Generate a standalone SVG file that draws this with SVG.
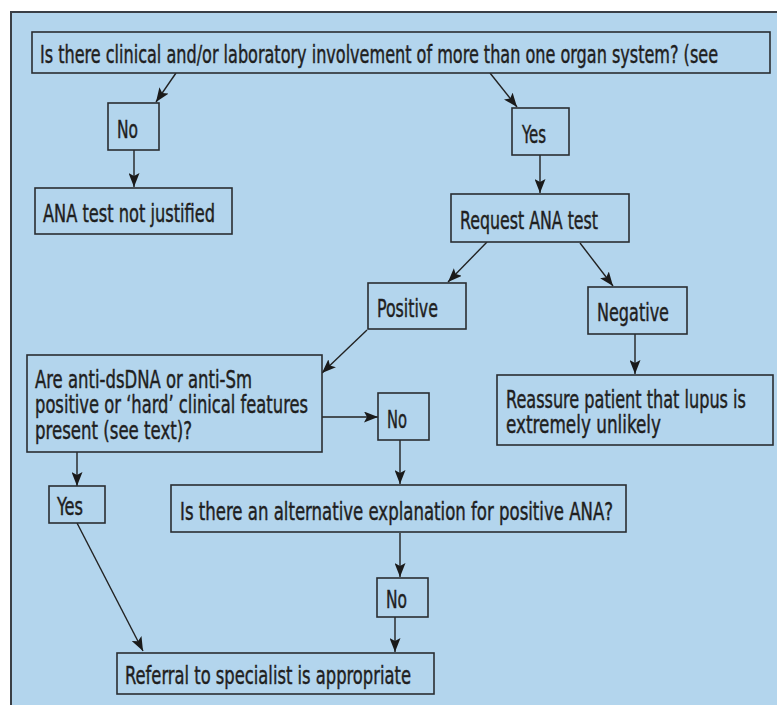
<svg xmlns="http://www.w3.org/2000/svg" width="777" height="705" viewBox="0 0 777 705">
<defs>
<style>
.bg{fill:#b3d5ed;stroke:#3a3f46;stroke-width:2}
.box{fill:#b3d5ed;stroke:#2a2d31;stroke-width:1.6}
.t{font-family:"Liberation Sans Narrow","DejaVu Sans Condensed","Liberation Sans",sans-serif;font-size:25px;fill:#1f1f1f;stroke:#1f1f1f;stroke-width:0.45}
.c{stroke:#222;stroke-width:1.4;fill:none;marker-end:url(#ah)}
</style>
<marker id="ah" markerUnits="userSpaceOnUse" markerWidth="14" markerHeight="11" refX="14" refY="5.5" orient="auto">
<path d="M0,0 L14,5.5 L0,11 L3,5.5 z" fill="#1a1a1a"/>
</marker>
</defs>
<rect width="777" height="705" fill="#ffffff"/>
<rect class="bg" x="11" y="12" width="800" height="720"/>
<g id="connectors">
<line class="c" x1="176" y1="73" x2="156" y2="102"/>
<line class="c" x1="490" y1="73" x2="517" y2="107"/>
<line class="c" x1="134" y1="150" x2="134" y2="187"/>
<line class="c" x1="540" y1="155" x2="540" y2="193"/>
<line class="c" x1="487" y1="242" x2="448" y2="282"/>
<line class="c" x1="580" y1="243" x2="613" y2="286"/>
<line class="c" x1="635" y1="334" x2="635" y2="374"/>
<line class="c" x1="367" y1="330" x2="322" y2="373"/>
<line class="c" x1="322" y1="417" x2="378" y2="417"/>
<line class="c" x1="77" y1="452" x2="77" y2="486"/>
<line class="c" x1="400" y1="440" x2="400" y2="484"/>
<line class="c" x1="77" y1="523" x2="143" y2="651"/>
<line class="c" x1="400" y1="533" x2="400" y2="577"/>
<line class="c" x1="395" y1="617" x2="395" y2="652"/>
</g>
<g id="q1"><rect class="box" x="32" y="32" width="738" height="41"/><text class="t" transform="translate(40,63) scale(0.72,1)" textLength="941.7" lengthAdjust="spacingAndGlyphs">Is there clinical and/or laboratory involvement of more than one organ system? (see</text></g>
<g id="no1"><rect class="box" x="108" y="103" width="51" height="47"/><text class="t" transform="translate(117,138) scale(0.72,1)" textLength="29.2" lengthAdjust="spacingAndGlyphs">No</text></g>
<g id="ana-not"><rect class="box" x="35" y="188" width="197" height="46"/><text class="t" transform="translate(43,222) scale(0.72,1)" textLength="238.9" lengthAdjust="spacingAndGlyphs">ANA test not justified</text></g>
<g id="yes1"><rect class="box" x="512" y="108" width="57" height="47"/><text class="t" transform="translate(522,143) scale(0.72,1)" textLength="33.3" lengthAdjust="spacingAndGlyphs">Yes</text></g>
<g id="request"><rect class="box" x="451" y="194" width="178" height="48"/><text class="t" transform="translate(460,229) scale(0.72,1)" textLength="191.7" lengthAdjust="spacingAndGlyphs">Request ANA test</text></g>
<g id="positive"><rect class="box" x="368" y="283" width="98" height="46"/><text class="t" transform="translate(377,317) scale(0.72,1)" textLength="84.7" lengthAdjust="spacingAndGlyphs">Positive</text></g>
<g id="negative"><rect class="box" x="588" y="287" width="99" height="47"/><text class="t" transform="translate(597,321) scale(0.72,1)" textLength="100" lengthAdjust="spacingAndGlyphs">Negative</text></g>
<g id="reassure"><rect class="box" x="497" y="375" width="276" height="70"/><text class="t" transform="translate(506,408) scale(0.72,1)" textLength="333.3" lengthAdjust="spacingAndGlyphs">Reassure patient that lupus is</text><text class="t" transform="translate(506,433) scale(0.72,1)" textLength="215.3" lengthAdjust="spacingAndGlyphs">extremely unlikely</text></g>
<g id="q2"><rect class="box" x="27" y="355" width="295" height="97"/><text class="t" transform="translate(35,388) scale(0.72,1)" textLength="301.4" lengthAdjust="spacingAndGlyphs">Are anti-dsDNA or anti-Sm</text><text class="t" transform="translate(35,413) scale(0.72,1)" textLength="379.2" lengthAdjust="spacingAndGlyphs">positive or ‘hard’ clinical features</text><text class="t" transform="translate(35,439) scale(0.72,1)" textLength="218.1" lengthAdjust="spacingAndGlyphs">present (see text)?</text></g>
<g id="no2"><rect class="box" x="378" y="393" width="51" height="47"/><text class="t" transform="translate(387,428) scale(0.72,1)" textLength="27.8" lengthAdjust="spacingAndGlyphs">No</text></g>
<g id="yes2"><rect class="box" x="49" y="486" width="56" height="37"/><text class="t" transform="translate(57,515) scale(0.72,1)" textLength="36.1" lengthAdjust="spacingAndGlyphs">Yes</text></g>
<g id="q3"><rect class="box" x="171" y="485" width="455" height="47"/><text class="t" transform="translate(180,520) scale(0.72,1)" textLength="601.4" lengthAdjust="spacingAndGlyphs">Is there an alternative explanation for positive ANA?</text></g>
<g id="no3"><rect class="box" x="377" y="578" width="51" height="39"/><text class="t" transform="translate(386,608) scale(0.72,1)" textLength="29.2" lengthAdjust="spacingAndGlyphs">No</text></g>
<g id="referral"><rect class="box" x="117" y="653" width="317" height="41"/><text class="t" transform="translate(125,684) scale(0.72,1)" textLength="397.2" lengthAdjust="spacingAndGlyphs">Referral to specialist is appropriate</text></g>
</svg>
